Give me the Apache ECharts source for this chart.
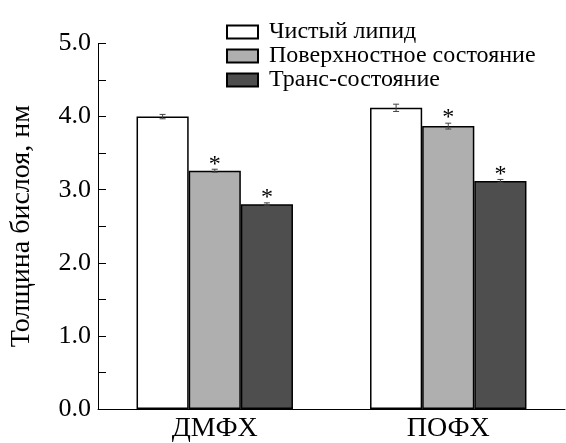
<!DOCTYPE html>
<html><head><meta charset="utf-8">
<script src="https://cdn.jsdelivr.net/npm/echarts@6/dist/echarts.min.js"></script>
<style>html,body{margin:0;padding:0;background:#fff}#c{width:566px;height:443px}
#pre{position:absolute;left:-9999px;top:0;font-family:"Liberation Serif";font-size:24px}</style>
</head><body><span id="pre">Толщина бислоя 5.0 ДМФХ *</span><div id="c"></div>
<script>
const categories = ['ДМФХ', 'ПОФХ'];
const seriesNames = ['Чистый липид', 'Поверхностное состояние', 'Транс-состояние'];
const pureLipid = [4.00, 4.12];
const surfaceState = [3.26, 3.87];
const transState = [2.80, 3.12];
const pureErr = [0.03, 0.05];
const surfaceErr = [0.02, 0.04];
const transErr = [0.02, 0.02];
const surfaceStar = [true, true];
const transStar = [true, true];
const yTicks = ['0.0','1.0','2.0','3.0','4.0','5.0'];

const FONT = 'Liberation Serif';
const colors = ['#ffffff', '#afafaf', '#4e4e4e'];
const values = [pureLipid, surfaceState, transState];
const errs = [pureErr, surfaceErr, transErr];
const stars = [[false,false], surfaceStar, transStar];
const GAP = 0.33;

const series = [];
values.forEach((vals, s) => {
  series.push({
    name: seriesNames[s], type: 'bar', barGap: '0%', barCategoryGap: (GAP*100)+'%',
    itemStyle: { color: colors[s], borderColor: '#000', borderWidth: 1.5 },
    data: vals.map((v, i) => ({
      value: v,
      label: { show: stars[s][i], position: 'top', formatter: '*', distance: 1 + errs[s][i]*73,
               fontFamily: FONT, fontSize: 24, color: '#000', lineHeight: 20, padding: [0,0,-6,0] }
    })),
    z: 2
  });
});
series.push({
  type: 'custom', name: 'err', z: 5, silent: true,
  data: categories.map((c, i) => i),
  renderItem: function (params, api) {
    const i = api.value(0);
    const catW = api.size([1, 0])[0];
    const bw = catW * (1 - GAP) / 3;
    const children = [];
    for (let s = 0; s < 3; s++) {
      const c = api.coord([i, values[s][i]]);
      const x = c[0] + (s - 1) * bw;
      const hi = api.coord([i, values[s][i] + errs[s][i]])[1];
      const lo = api.coord([i, values[s][i] - errs[s][i]])[1];
      const st = { stroke: '#444', lineWidth: 1 };
      children.push({ type: 'line', shape: { x1: x, y1: hi, x2: x, y2: lo }, style: st });
      children.push({ type: 'line', shape: { x1: x - 3, y1: hi, x2: x + 3, y2: hi }, style: st });
      children.push({ type: 'line', shape: { x1: x - 3, y1: lo, x2: x + 3, y2: lo }, style: st });
    }
    return { type: 'group', children };
  }
});

const option = {
  animation: false,
  backgroundColor: '#fff',
  grid: { left: 97, top: 43.5, right: 1, bottom: 34, containLabel: false },
  legend: {
    data: seriesNames, orient: 'vertical', left: 221, top: 15, icon: 'rect',
    itemWidth: 31, itemHeight: 13, itemGap: 0,
    textStyle: { fontFamily: FONT, fontSize: 24, lineHeight: 22, color: '#000', padding: [0,0,0,6] }
  },
  xAxis: {
    type: 'category', data: categories,
    axisLine: { lineStyle: { color: '#000', width: 1 } },
    axisTick: { inside: true, length: 8, lineStyle: { color: '#000' } },
    axisLabel: { fontFamily: FONT, fontSize: 28, color: '#000', margin: 6 }
  },
  yAxis: {
    type: 'value', min: 0, max: 5, interval: 1,
    name: 'Толщина бислоя, нм', nameLocation: 'middle', nameGap: 62,
    nameTextStyle: { fontFamily: FONT, fontSize: 28, color: '#000' },
    axisLine: { show: true, lineStyle: { color: '#000', width: 1 } },
    axisTick: { show: true, inside: true, length: 8, lineStyle: { color: '#000' } },
    minorTick: { show: true, splitNumber: 2, length: 8, lineStyle: { color: '#000' } },
    splitLine: { show: false },
    axisLabel: { fontFamily: FONT, fontSize: 26, color: '#000', margin: 7,
                 formatter: v => yTicks[Math.round(v)] }
  },
  series
};
const chart = echarts.init(document.getElementById('c'));
chart.setOption(option);
function redraw() { chart.clear(); chart.setOption(option, true); }
if (document.fonts && document.fonts.load) {
  document.fonts.load('24px "Liberation Serif"', 'Толщина 5.0').then(redraw);
  document.fonts.ready.then(redraw);
}
setTimeout(redraw, 100);
</script></body></html>
